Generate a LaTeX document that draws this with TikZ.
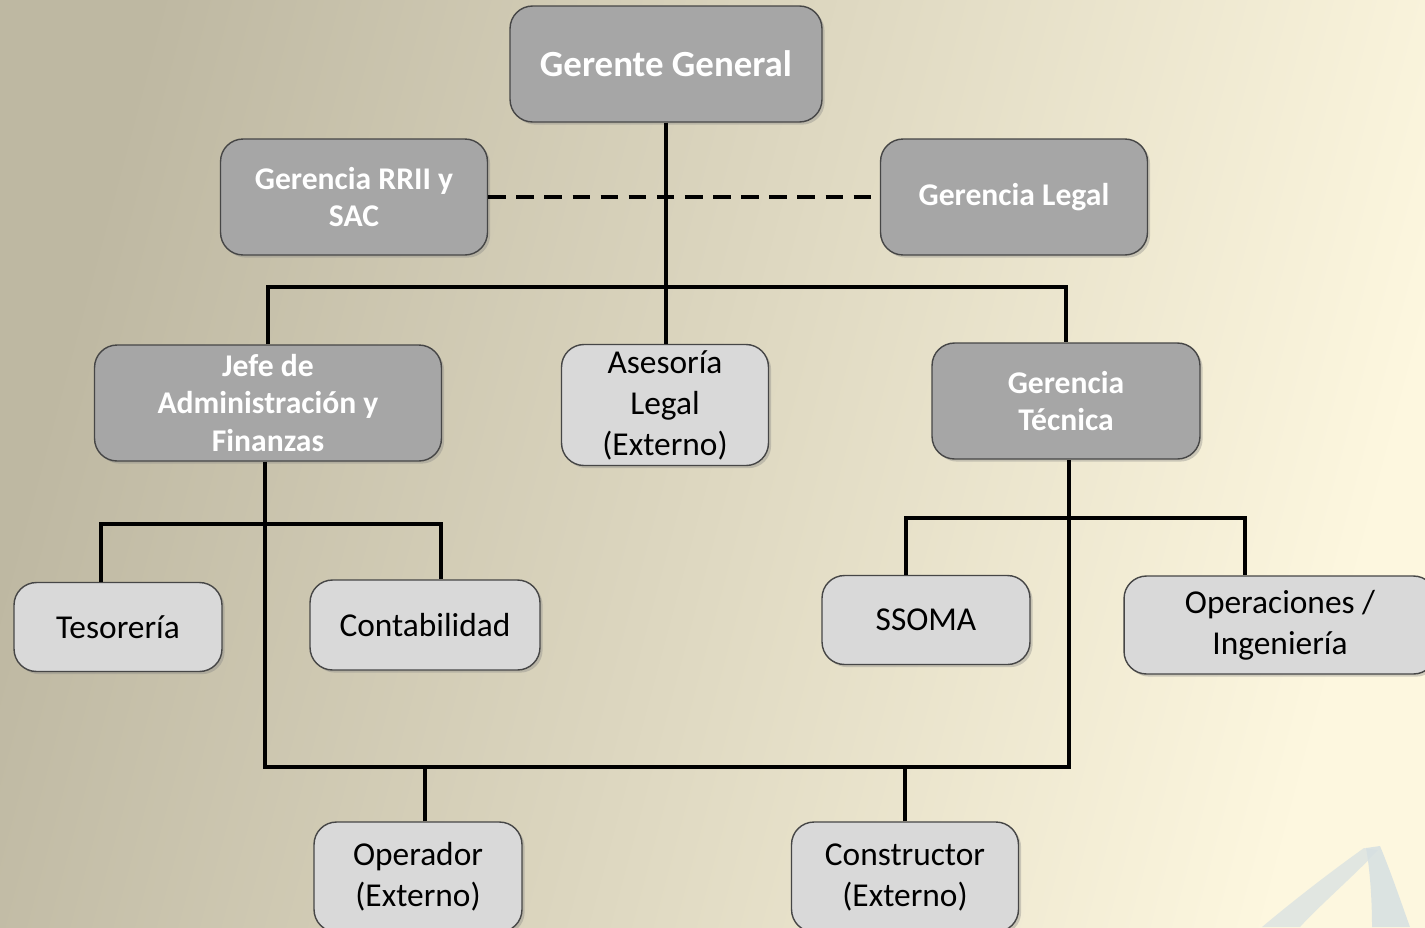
\documentclass[tikz,border=0pt]{standalone}
\usepackage{fontspec}
\setmainfont{Carlito}
\usetikzlibrary{shadows}

\definecolor{bgleft}{RGB}{190,184,162}
\definecolor{bgright}{RGB}{253,247,223}
\definecolor{boss}{RGB}{166,166,166}
\definecolor{staff}{RGB}{217,217,217}
\definecolor{rim}{RGB}{70,70,70}
\definecolor{swoosh}{RGB}{214,224,226}

\tikzstyle{box}=[draw=rim, line width=0.8pt, rounded corners=0.45cm, align=center,
  drop shadow={shadow xshift=1.5pt, shadow yshift=-1.5pt, opacity=0.35}]
\tikzstyle{head}=[box, fill=boss, text=white, font=\fontsize{18}{21.5}\selectfont\bfseries]
\tikzstyle{unit}=[box, fill=staff, text=black, font=\fontsize{19}{23.3}\selectfont]
\tikzstyle{link}=[line width=1.9pt, black]

\begin{document}
\begin{tikzpicture}[x=0.02cm, y=-0.02cm]
      \clip (0,0) rectangle (1425,927);
      \shade[left color=bgleft, right color=bgright, shading angle=75] (0,0) rectangle (1425,927);
      \fill[swoosh, opacity=0.7] (1262,927) .. controls (1300,895) and (1340,865) .. (1364,848)
        -- (1378,850) .. controls (1355,875) and (1320,905) .. (1300,927) -- cycle;
      \fill[swoosh, opacity=0.85] (1366,848) -- (1380,846) .. controls (1392,875) and (1402,905) .. (1410,927)
        -- (1372,927) .. controls (1372,900) and (1370,870) .. (1366,848) -- cycle;

      \node[head, minimum width=6.24cm, minimum height=2.32cm, font=\fontsize{21}{25}\selectfont\bfseries] (gg) at (666,64) {Gerente General};
      \node[head, minimum width=5.34cm, minimum height=2.32cm] (rrii) at (354,197) {Gerencia RRII y\\SAC};
      \node[head, minimum width=5.34cm, minimum height=2.32cm] (gl) at (1014,197) {Gerencia Legal};
      \node[head, minimum width=6.94cm, minimum height=2.32cm] (jaf) at (268,403) {Jefe de\\Administración y\\Finanzas};
      \node[unit, minimum width=4.14cm, minimum height=2.34cm] (ase) at (665,405) {Asesoría\\Legal\\(Externo)};
      \node[head, minimum width=5.36cm, minimum height=2.32cm] (gt) at (1066,401) {Gerencia\\Técnica};
      \node[unit, minimum width=4.16cm, minimum height=1.78cm] (tes) at (118,627) {Tesorería};
      \node[unit, minimum width=4.6cm, minimum height=1.8cm] (con) at (425,625) {Contabilidad};
      \node[unit, minimum width=4.16cm, minimum height=1.78cm] (sso) at (926,620) {SSOMA};
      \node[unit, minimum width=6.24cm, minimum height=1.96cm] (opi) at (1280,625) {Operaciones /\\Ingeniería};
      \node[unit, minimum width=4.16cm, minimum height=2.2cm] (opx) at (418,877) {Operador\\(Externo)};
      \node[unit, minimum width=4.54cm, minimum height=2.2cm] (cox) at (905,877) {Constructor\\(Externo)};

      \coordinate (topbus) at (666,287);
      \coordinate (admbus) at (265,524);
      \coordinate (tecbus) at (1069,518);
      \coordinate (lowbus) at (666,767);

      \draw[link, dashed, dash pattern=on 10pt off 6pt] (rrii) -- (gl);
      \draw[link] (gg) -- (gg |- ase.north);
      \draw[link] (jaf) |- (topbus) -| (gt);
      \draw[link] ([xshift=-0.06cm]jaf.south) |- (lowbus) -| ([xshift=0.06cm]gt.south);
      \draw[link] ([xshift=-0.34cm]tes.north) |- (admbus) -| ([xshift=0.32cm]con.north);
      \draw[link] ([xshift=-0.4cm]sso.north) |- (tecbus) -| ([xshift=-0.7cm]opi.north);
      \draw[link] ([xshift=0.14cm]opx.north) -- ([xshift=0.14cm]opx.north |- lowbus);
      \draw[link] (cox) -- (cox |- lowbus);
    \end{tikzpicture}
\end{document}
